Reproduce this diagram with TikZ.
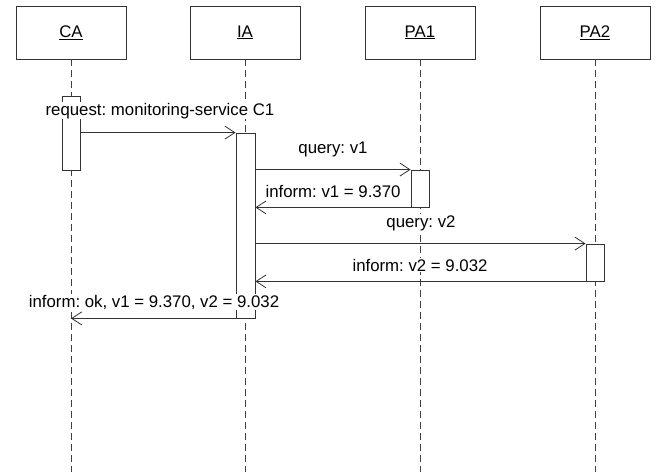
\documentclass[tikz,border=0pt]{standalone}
\usepackage{fontspec}
\setmainfont{Liberation Sans}
\usetikzlibrary{arrows.meta}
\newcommand{\lbl}{\fontsize{16.8}{20}\selectfont\frenchspacing}
\tikzset{
	obj/.style={draw=black!80, line width=0.8pt, minimum width=110pt, minimum height=53pt, font=\lbl},
	act/.style={draw=black!80, line width=0.8pt, fill=white, minimum width=18pt, inner sep=0pt},
	life/.style={draw=black!75, line width=0.8pt, dash pattern=on 7pt off 4pt},
	msg/.style={draw=black!80, line width=0.8pt, -{Straight Barb[length=10pt,width=13pt]}},
	txt/.style={anchor=base, fill=white, inner sep=1pt, font=\lbl}
}
\begin{document}
\begin{tikzpicture}[x=1pt,y=-1pt]
		\useasboundingbox (0,0) rectangle (657,472);
		
		% objects
		\node[obj] (ca) at (71,32.5) {\underline{CA}};
		\node[obj] (ia) at (245,32.5) {\underline{IA}};
		\node[obj] (pa1) at (420,32.5) {\underline{PA1}};
		\node[obj] (pa2) at (595,32.5) {\underline{PA2}};
		
		\foreach \o in {ca,ia,pa1,pa2}
			\draw[life] (\o.south) -- (\o.south |- 0,472);
		
		% activations
		\node[act, minimum height=74pt] (caact) at (71,133) {};
		\node[act, minimum width=19pt, minimum height=185pt] (iaact) at (245.5,225.5) {};
		\node[act, minimum height=37pt] (pa1act) at (420,188.5) {};
		\node[act, minimum height=37pt] (pa2act) at (595,262.5) {};
		
		% messages
		\draw[msg] (caact.east |- iaact.north) -- (iaact.north west);
		\draw[msg] (iaact.east |- pa1act.north) -- (pa1act.north west);
		\draw[msg] (pa1act.south west) -- (iaact.east |- pa1act.south);
		\draw[msg] (iaact.east |- pa2act.north) -- (pa2act.north west);
		\draw[msg] (pa2act.south west) -- (iaact.east |- pa2act.south);
		\draw[msg] (iaact.south east) -- (ca.south |- iaact.south);
		
		\node[txt] (req) at (160,115) {request: monitoring-service C1};
		\node[txt] (q1) at (333,153) {query: v1};
		\node[txt] (i1) at (333,197) {inform: v1 = 9.370};
		\node[txt] (q2) at (421,227) {query: v2};
		\node[txt] (i2) at (420,271) {inform: v2 = 9.032};
		\node[txt] (ok) at (154,307) {inform: ok, v1 = 9.370, v2 = 9.032};
	\end{tikzpicture}
\end{document}
